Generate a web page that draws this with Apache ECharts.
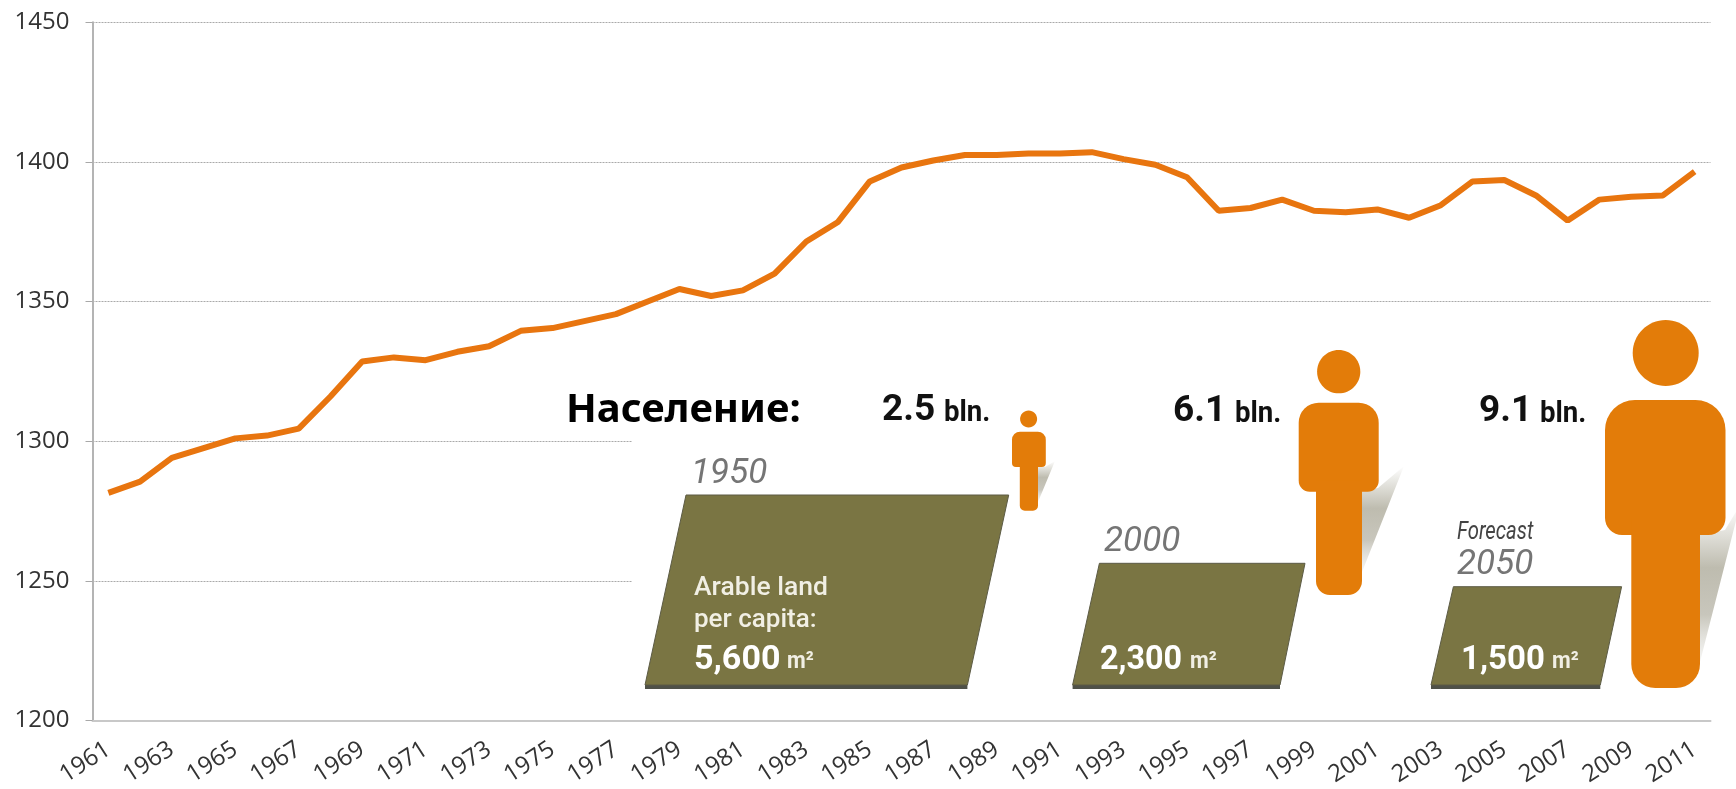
<!DOCTYPE html>
<html>
<head>
<meta charset="utf-8">
<style>
  html, body { margin: 0; padding: 0; background: #fff; }
  #main { width: 1736px; height: 789px; }
</style>
<script src="https://cdn.jsdelivr.net/npm/echarts@6/dist/echarts.min.js"></script>
</head>
<body>
<div id="main"></div>
<script>
var years = ['1961','1962','1963','1964','1965','1966','1967','1968','1969','1970',
  '1971','1972','1973','1974','1975','1976','1977','1978','1979','1980',
  '1981','1982','1983','1984','1985','1986','1987','1988','1989','1990',
  '1991','1992','1993','1994','1995','1996','1997','1998','1999','2000',
  '2001','2002','2003','2004','2005','2006','2007','2008','2009','2010','2011'];
var arableLand = [1281.5,1285.5,1294,1297.5,1301,1302,1304.5,1316,1328.5,1330,
  1329,1332,1334,1339.5,1340.5,1343,1345.5,1350,1354.5,1352,
  1354,1360,1371.5,1378.5,1393,1398,1400.5,1402.5,1402.5,1403,
  1403,1403.5,1401,1399,1394.5,1382.5,1383.5,1386.5,1382.5,1382,
  1383,1380,1384.5,1393,1393.5,1388,1379,1386.5,1387.5,1388,1396.5];

var orange = '#e37c09';
var olive = '#7a7543';
var oliveDark = '#4f5148';
var greyText = '#757575';
var labelFont = '"Open Sans", sans-serif';
var posterFont = 'Roboto, sans-serif';

function label(text, x, y, size, color, weight, opts) {
  opts = opts || {};
  return {
    type: 'text', x: x, y: y, z: 20, scaleX: opts.scaleX || 1,
    style: {
      text: text, fill: color, fontSize: size, fontWeight: weight,
      fontStyle: opts.italic ? 'italic' : 'normal',
      fontFamily: opts.font || posterFont, verticalAlign: 'middle'
    }
  };
}

function field(pts, bandBottom) {
  return [
    { type: 'polygon', z: 12, shape: { points: [[pts[3][0], pts[3][1]], [pts[2][0], pts[2][1]], [pts[2][0], bandBottom], [pts[3][0], bandBottom]] }, style: { fill: oliveDark } },
    { type: 'polygon', z: 13, shape: { points: pts }, style: { fill: olive, stroke: '#5c5b45', lineWidth: 1 } }
  ];
}

function person(p) {
  var shade = new echarts.graphic.LinearGradient(0, 0, 0, 1, [
    { offset: 0, color: 'rgba(190,188,175,0)' },
    { offset: 0.4, color: 'rgba(190,188,175,1)' },
    { offset: 0.7, color: 'rgba(200,198,188,1)' },
    { offset: 1, color: 'rgba(225,224,218,0.3)' }
  ]);
  return [
    { type: 'polygon', z: 14, shape: { points: p.shadow }, style: { fill: shade } },
    { type: 'ellipse', z: 15, shape: { cx: p.cx, cy: p.headY, rx: p.headR, ry: p.headR }, style: { fill: orange } },
    { type: 'rect', z: 15, shape: { x: p.bodyL, y: p.bodyT, width: p.bodyR - p.bodyL, height: p.bodyB - p.bodyT, r: [p.rTop, p.rTop, p.rBot, p.rBot] }, style: { fill: orange } },
    { type: 'rect', z: 15, shape: { x: p.legL, y: p.bodyB - p.rBot, width: p.legR - p.legL, height: p.legB - p.bodyB + p.rBot, r: [0, 0, p.rLeg, p.rLeg] }, style: { fill: orange } }
  ];
}

var poster = [
  // the pasted picture covers the lower gridlines
  { type: 'rect', z: 5, shape: { x: 632, y: 425, width: 1090, height: 285 }, style: { fill: '#fff' } }
];
poster = poster.concat(
  field([[686, 495], [1008.7, 495], [967.4, 685], [645, 685]], 689),
  field([[1099.4, 563.3], [1305, 563.3], [1280, 685], [1072.6, 685]], 689),
  field([[1453.4, 586.7], [1621.6, 586.7], [1600.3, 685], [1431, 685]], 689),
  person({ cx: 1028.6, headY: 419, headR: 8.5, bodyL: 1012, bodyR: 1045.8, bodyT: 431.7, bodyB: 467, rTop: 8, rBot: 4, legL: 1019.8, legR: 1038, legB: 510.7, rLeg: 5,
    shadow: [[1055, 461], [1045, 467], [1038, 467], [1038, 502]] }),
  person({ cx: 1338.7, headY: 371.7, headR: 21.6, bodyL: 1298.7, bodyR: 1378.7, bodyT: 402.7, bodyB: 491.7, rTop: 20, rBot: 11, legL: 1316, legR: 1362, legB: 595, rLeg: 14,
    shadow: [[1404, 466], [1378, 488], [1362, 491], [1362, 572]] }),
  person({ cx: 1665.7, headY: 353, headR: 33, bodyL: 1605, bodyR: 1725.5, bodyT: 400, bodyB: 535, rTop: 30, rBot: 17, legL: 1631.3, legR: 1700, legB: 688, rLeg: 24,
    shadow: [[1740, 505], [1725, 530], [1700, 535], [1700, 662]] }),
  [
    label('Население:', 566, 411, 40, '#000', 'bold', { font: '"Noto Sans", sans-serif' }),
    label('2.5', 882, 411, 37, '#111', 'bold'),
    label('bln.', 944, 413, 30, '#111', 'bold', { scaleX: 0.92 }),
    label('6.1', 1173, 412, 37, '#111', 'bold'),
    label('bln.', 1235, 414, 30, '#111', 'bold', { scaleX: 0.92 }),
    label('9.1', 1479, 412, 37, '#111', 'bold'),
    label('bln.', 1540, 414, 30, '#111', 'bold', { scaleX: 0.92 }),
    label('1950', 691, 474, 35, greyText, 'normal', { italic: true }),
    label('2000', 1104, 542, 35, greyText, 'normal', { italic: true }),
    label('2050', 1457, 565, 35, greyText, 'normal', { italic: true }),
    label('Forecast', 1457, 532, 26, '#444', 'normal', { italic: true, scaleX: 0.78 }),
    label('Arable land', 694, 588, 26, '#f1efe4', 500, { scaleX: 1.02 }),
    label('per capita:', 694, 620, 26, '#f1efe4', 500),
    label('5,600', 694, 660, 34, '#fff', 'bold'),
    label('m²', 787, 662, 24, '#f1efe4', 'bold', { scaleX: 0.9 }),
    label('2,300', 1100, 660, 34, '#fff', 'bold', { scaleX: 0.95 }),
    label('m²', 1190, 662, 24, '#f1efe4', 'bold', { scaleX: 0.9 }),
    label('1,500', 1461, 660, 34, '#fff', 'bold', { scaleX: 0.97 }),
    label('m²', 1552, 662, 24, '#f1efe4', 'bold', { scaleX: 0.9 })
  ]
);

var myChart = echarts.init(document.getElementById('main'));
var option = {
  animation: false,
  backgroundColor: '#fff',
  grid: { left: 92.5, right: 25.5, top: 22.3, bottom: 68.3 },
  xAxis: {
    type: 'category',
    data: years,
    boundaryGap: true,
    axisLine: { lineStyle: { color: '#c8c8c8', width: 2 } },
    axisTick: { interval: 0, length: 8, lineStyle: { color: '#a8a8a8', width: 1 } },
    axisLabel: { interval: 1, rotate: 33, margin: 27, fontSize: 24, color: '#333', fontFamily: labelFont }
  },
  yAxis: {
    type: 'value',
    min: 1200,
    max: 1450,
    interval: 50,
    axisLine: { show: true, lineStyle: { color: '#b4b4b4', width: 2 } },
    axisTick: { show: true, length: 7, lineStyle: { color: '#a8a8a8', width: 1 } },
    axisLabel: { margin: 23, fontSize: 24, color: '#333', fontFamily: labelFont, formatter: function (v) { return String(v); } },
    splitLine: { lineStyle: { color: '#a9a9a9', width: 1, type: [2, 1] } }
  },
  series: [{
    type: 'line',
    data: arableLand,
    symbol: 'none',
    smooth: false,
    z: 3,
    lineStyle: { color: '#e8750f', width: 6 }
  }],
  graphic: { elements: poster }
};
myChart.setOption(option);
</script>
</body>
</html>
